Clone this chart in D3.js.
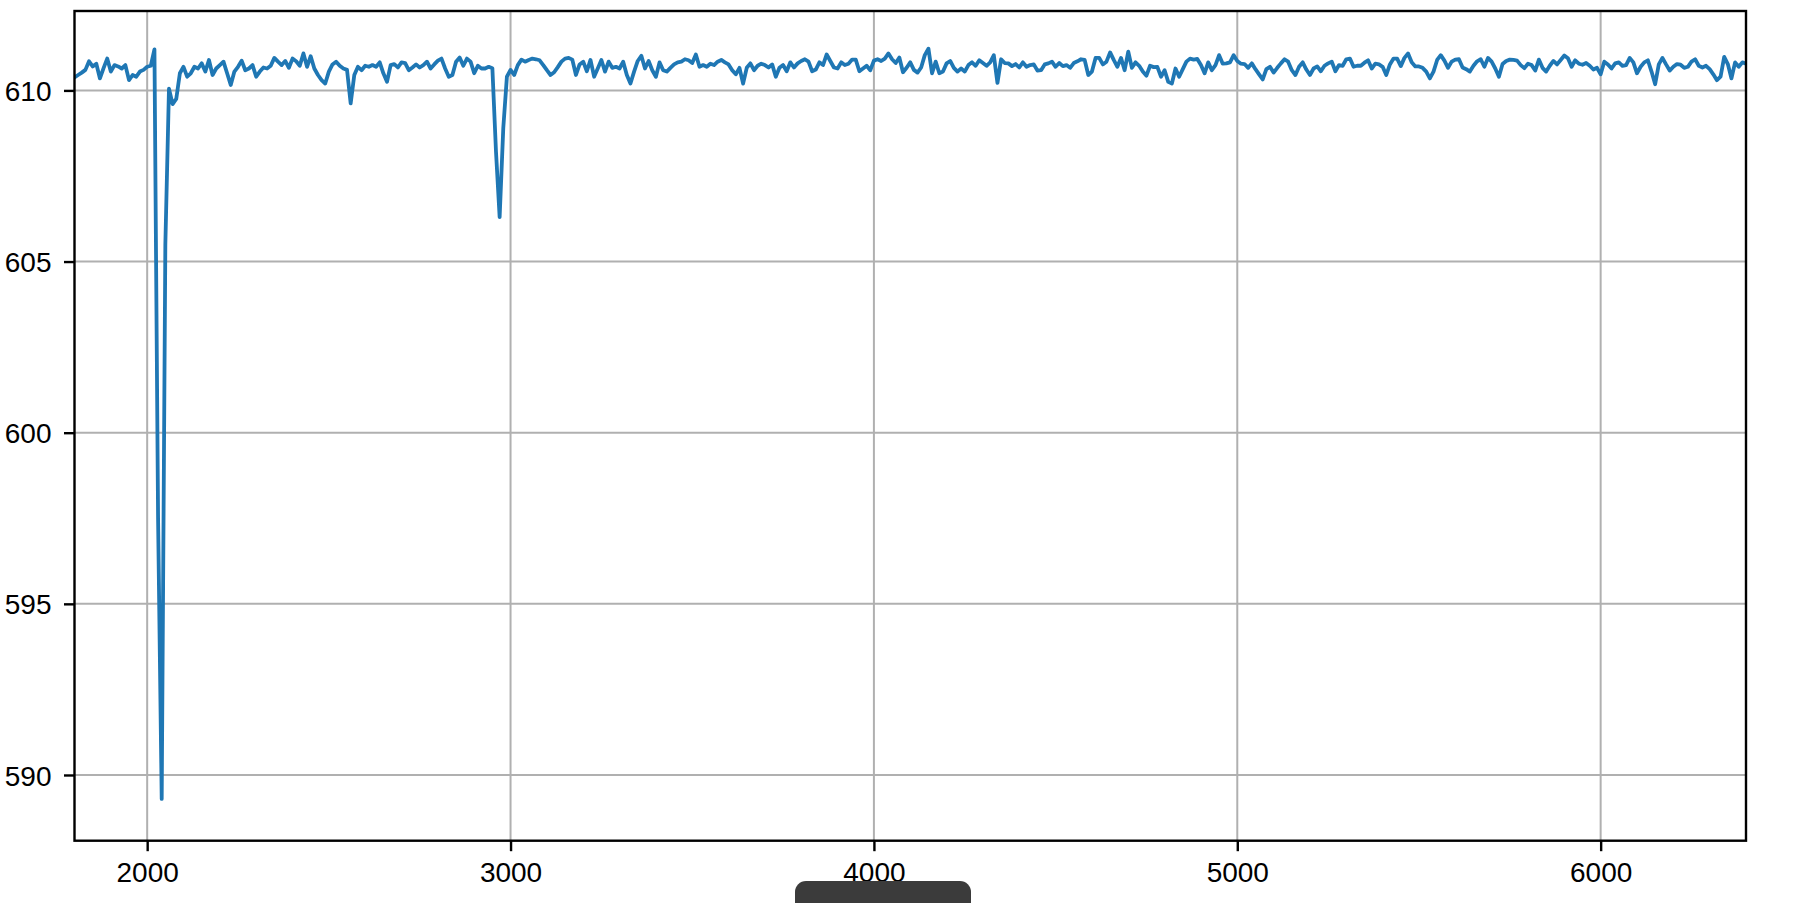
<!DOCTYPE html>
<html>
<head>
<meta charset="utf-8">
<script src="https://cdn.jsdelivr.net/npm/d3@7"></script>
<style>
  html, body { margin: 0; padding: 0; background: #ffffff; }
  svg { display: block; }
</style>
</head>
<body>
<svg id="chart" width="1798" height="903"></svg>
<script>
// ---- data ----
const xStart = 1800;
const xStep = 10;
const signalValues = [
  610.38, 610.45, 610.52, 610.6, 610.85, 610.7, 610.78, 610.35, 610.65, 610.93,
  610.55, 610.74, 610.7, 610.64, 610.74, 610.3, 610.45, 610.4, 610.55, 610.6,
  610.69, 610.72, 611.2, 597.5, 589.3, 605.5, 610.05, 609.6, 609.75, 610.5,
  610.69, 610.4, 610.5, 610.69, 610.64, 610.79, 610.55, 610.89, 610.45, 610.64,
  610.74, 610.84, 610.5, 610.16, 610.55, 610.69, 610.87, 610.59, 610.64, 610.74,
  610.4, 610.55, 610.67, 610.64, 610.72, 610.95, 610.84, 610.74, 610.86, 610.66,
  610.93, 610.85, 610.72, 611.08, 610.69, 611.0, 610.64, 610.45, 610.3, 610.2,
  610.55, 610.76, 610.84, 610.72, 610.64, 610.6, 609.62, 610.45, 610.69, 610.59,
  610.72, 610.69, 610.74, 610.69, 610.82, 610.5, 610.25, 610.74, 610.77, 610.67,
  610.82, 610.8, 610.59, 610.67, 610.76, 610.67, 610.74, 610.84, 610.64, 610.76,
  610.87, 610.93, 610.64, 610.4, 610.45, 610.84, 610.96, 610.72, 610.93, 610.84,
  610.5, 610.72, 610.64, 610.64, 610.69, 610.65, 608.2, 606.3, 608.9, 610.4,
  610.6, 610.45, 610.74, 610.9, 610.84, 610.89, 610.93, 610.91, 610.88, 610.74,
  610.59, 610.45, 610.53, 610.68, 610.84, 610.93, 610.95, 610.9, 610.45, 610.76,
  610.84, 610.56, 610.89, 610.4, 610.64, 610.89, 610.55, 610.84, 610.66, 610.69,
  610.64, 610.84, 610.45, 610.2, 610.55, 610.86, 611.01, 610.64, 610.86, 610.59,
  610.4, 610.82, 610.59, 610.55, 610.66, 610.76, 610.82, 610.84, 610.91, 610.88,
  610.8, 611.05, 610.69, 610.74, 610.69, 610.78, 610.74, 610.84, 610.89, 610.82,
  610.76, 610.59, 610.47, 610.66, 610.2, 610.66, 610.79, 610.59, 610.72, 610.78,
  610.74, 610.67, 610.76, 610.4, 610.66, 610.74, 610.56, 610.82, 610.67, 610.79,
  610.86, 610.91, 610.84, 610.56, 610.61, 610.82, 610.74, 611.05, 610.86, 610.67,
  610.64, 610.82, 610.74, 610.78, 610.9, 610.9, 610.56, 610.64, 610.72, 610.59,
  610.87, 610.91, 610.86, 610.93, 611.08, 610.91, 610.8, 610.96, 610.53, 610.66,
  610.82, 610.6, 610.52, 610.67, 611.03, 611.22, 610.5, 610.84, 610.5, 610.55,
  610.79, 610.86, 610.66, 610.55, 610.64, 610.55, 610.74, 610.82, 610.72, 610.88,
  610.8, 610.72, 610.82, 611.03, 610.22, 610.91, 610.8, 610.79, 610.71, 610.77,
  610.67, 610.82, 610.69, 610.74, 610.76, 610.58, 610.59, 610.76, 610.79, 610.84,
  610.69, 610.8, 610.71, 610.74, 610.66, 610.8, 610.85, 610.91, 610.89, 610.45,
  610.55, 610.95, 610.95, 610.76, 610.84, 611.11, 610.89, 610.69, 610.95, 610.59,
  611.13, 610.66, 610.82, 610.72, 610.55, 610.43, 610.72, 610.68, 610.69, 610.4,
  610.59, 610.25, 610.2, 610.64, 610.4, 610.62, 610.84, 610.93, 610.9, 610.92,
  610.74, 610.5, 610.82, 610.59, 610.74, 611.03, 610.78, 610.79, 610.82, 611.03,
  610.86, 610.78, 610.77, 610.66, 610.79, 610.62, 610.47, 610.32, 610.62, 610.69,
  610.52, 610.66, 610.79, 610.91, 610.84, 610.59, 610.45, 610.69, 610.82, 610.61,
  610.45, 610.64, 610.7, 610.56, 610.72, 610.79, 610.84, 610.56, 610.74, 610.72,
  610.91, 610.93, 610.69, 610.72, 610.72, 610.81, 610.88, 610.64, 610.78, 610.76,
  610.69, 610.45, 610.76, 610.93, 610.93, 610.71, 610.95, 611.08, 610.82, 610.7,
  610.7, 610.66, 610.55, 610.35, 610.55, 610.89, 611.03, 610.87, 610.66, 610.84,
  610.9, 610.91, 610.67, 610.62, 610.55, 610.72, 610.85, 610.91, 610.69, 610.95,
  610.84, 610.64, 610.4, 610.77, 610.86, 610.9, 610.89, 610.87, 610.74, 610.65,
  610.78, 610.74, 610.58, 610.9, 610.66, 610.55, 610.72, 610.86, 610.76, 610.89,
  611.02, 610.94, 610.69, 610.88, 610.78, 610.75, 610.8, 610.72, 610.61, 610.66,
  610.47, 610.84, 610.76, 610.64, 610.79, 610.82, 610.72, 610.74, 610.95, 610.82,
  610.5, 610.69, 610.82, 610.88, 610.55, 610.18, 610.76, 610.95, 610.76, 610.58,
  610.69, 610.77, 610.75, 610.66, 610.69, 610.84, 610.91, 610.72, 610.67, 610.72,
  610.62, 610.47, 610.3, 610.4, 610.98, 610.77, 610.35, 610.82, 610.69, 610.82,
  610.78
];
const xTicks = [2000, 3000, 4000, 5000, 6000];
const yTicks = [590, 595, 600, 605, 610];
const xDomain = [1800, 6400];
const yDomain = [588.08, 612.32];

// ---- layout ----
const svg = d3.select("#chart");
const plot = { left: 74.5, top: 11, right: 1746, bottom: 840.7 };
const x = d3.scaleLinear().domain(xDomain).range([plot.left, plot.right]);
const y = d3.scaleLinear().domain(yDomain).range([plot.bottom, plot.top]);

const data = signalValues.map((v, i) => ({ x: xStart + i * xStep, y: v }));

const font = "'Liberation Sans', Arial, Helvetica, sans-serif";

// grid
const grid = svg.append("g");
grid.selectAll(".vg").data(xTicks).join("line")
  .attr("x1", d => x(d)).attr("x2", d => x(d))
  .attr("y1", plot.top).attr("y2", plot.bottom)
  .attr("stroke", "#b0b0b0").attr("stroke-width", 2);
grid.selectAll(".hg").data(yTicks).join("line")
  .attr("x1", plot.left).attr("x2", plot.right)
  .attr("y1", d => y(d)).attr("y2", d => y(d))
  .attr("stroke", "#b0b0b0").attr("stroke-width", 2);

// line
svg.append("defs").append("clipPath").attr("id", "clip")
  .append("rect").attr("x", plot.left).attr("y", plot.top)
  .attr("width", plot.right - plot.left).attr("height", plot.bottom - plot.top);

const line = d3.line().x(d => x(d.x)).y(d => y(d.y));
svg.append("path").datum(data)
  .attr("clip-path", "url(#clip)")
  .attr("d", line)
  .attr("fill", "none")
  .attr("stroke", "#1f77b4")
  .attr("stroke-width", 3.8)
  .attr("stroke-linejoin", "round")
  .attr("stroke-linecap", "round");

// axes
const xAxis = d3.axisBottom(x).tickValues(xTicks).tickSize(10.5).tickPadding(12).tickFormat(d3.format("d"));
const yAxis = d3.axisLeft(y).tickValues(yTicks).tickSize(10.5).tickPadding(12).tickFormat(d3.format("d"));

const gx = svg.append("g").attr("transform", `translate(0,${plot.bottom})`).call(xAxis);
const gy = svg.append("g").attr("transform", `translate(${plot.left},0)`).call(yAxis);
[gx, gy].forEach(g => {
  g.select(".domain").remove();
  g.selectAll(".tick line").attr("stroke", "#000").attr("stroke-width", 2.4);
  g.selectAll(".tick text").attr("fill", "#000")
    .style("font-family", font).style("font-size", "28px");
});
gx.selectAll(".tick text").attr("dy", "0.71em").attr("y", 21);
gy.selectAll(".tick text").attr("dy", "0.36em").attr("x", -23);

// frame
svg.append("rect")
  .attr("x", plot.left).attr("y", plot.top)
  .attr("width", plot.right - plot.left).attr("height", plot.bottom - plot.top)
  .attr("fill", "none").attr("stroke", "#000").attr("stroke-width", 2.4);

// overlay toast at bottom
svg.append("rect")
  .attr("x", 795).attr("y", 881).attr("width", 176).attr("height", 44)
  .attr("rx", 11).attr("fill", "#3b3b3b");
</script>
</body>
</html>
